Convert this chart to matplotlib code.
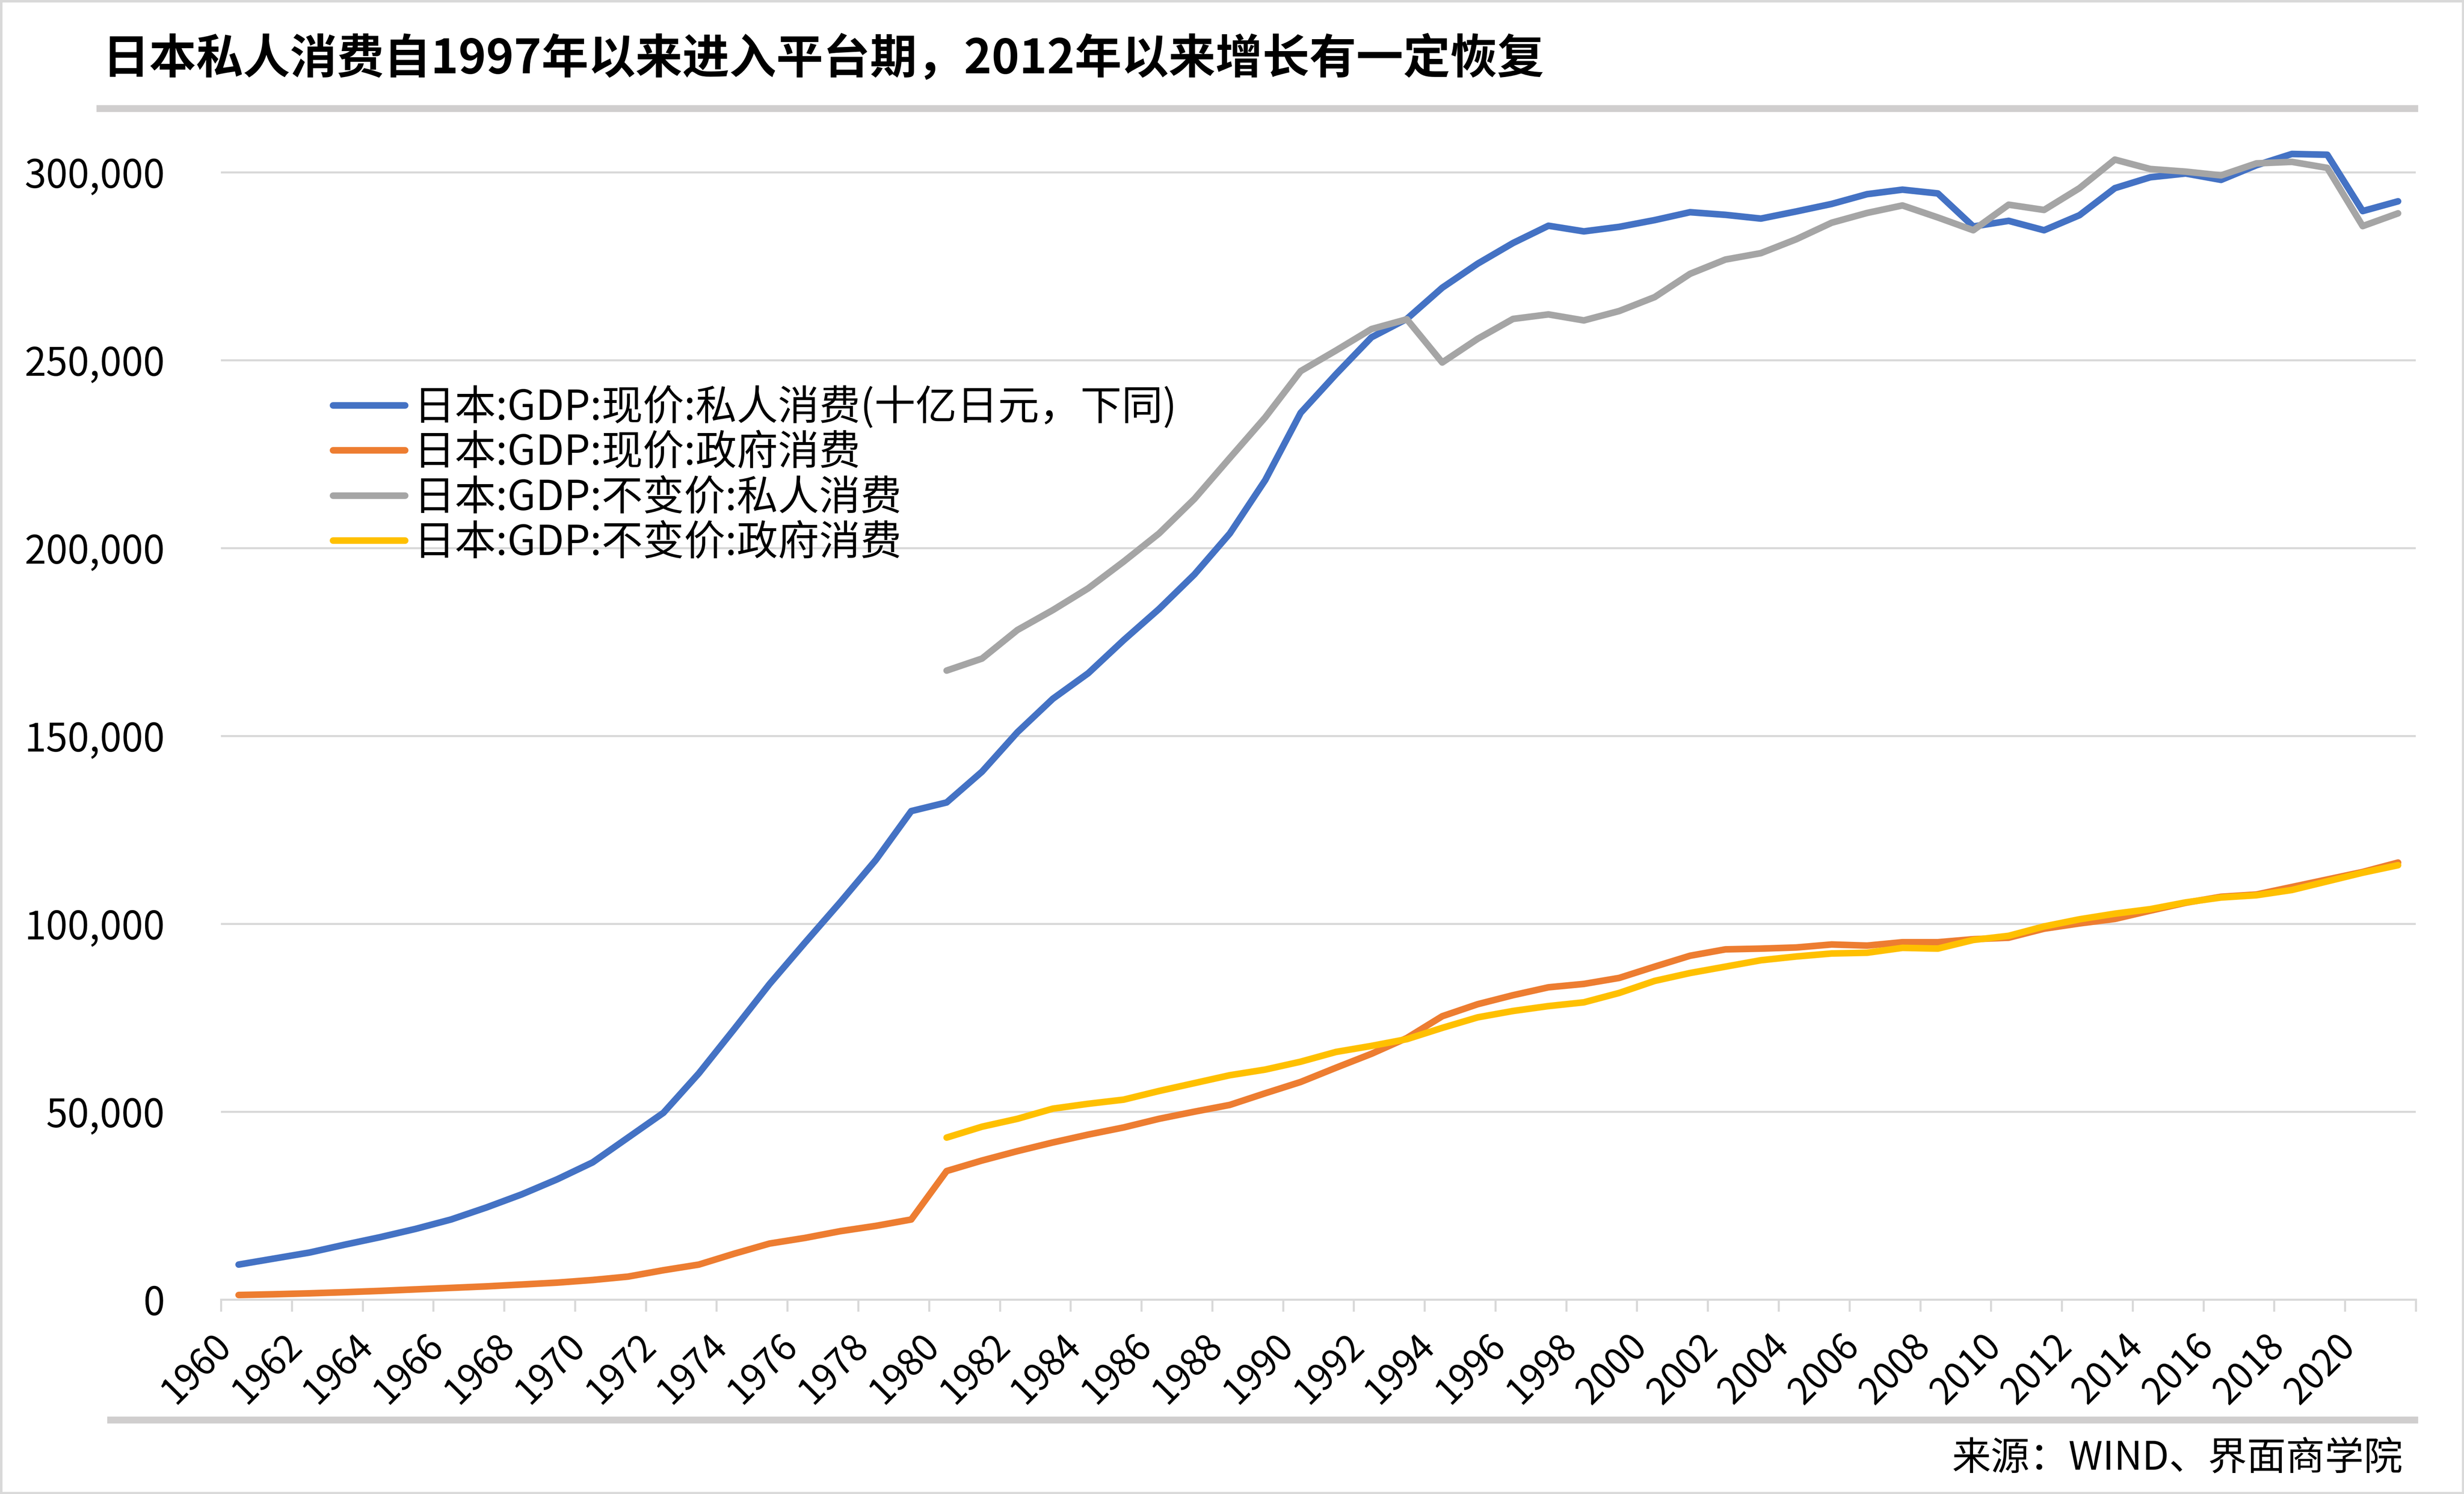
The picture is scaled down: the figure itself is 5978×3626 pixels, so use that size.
import numpy as np
import matplotlib

matplotlib.use("Agg")
import matplotlib.pyplot as plt
from matplotlib.patches import Rectangle
from matplotlib.ticker import FuncFormatter, FixedLocator

plt.rcParams["font.family"] = ["Noto Sans CJK SC", "DejaVu Sans"]

nan = np.nan

years = list(range(1960, 2022))

# 十亿日元
nominal_private = [
    9300, 10900, 12500, 14600, 16600, 18800, 21300, 24500, 28000, 32000,
    36500, 43100, 49700, 60200, 72000, 84000, 95000, 105800, 117000, 130000,
    132300, 140500, 151000, 159900, 166700, 175500, 183800, 193000, 203900, 218100,
    236000, 246300, 256100, 261000, 269300, 275700, 281200, 285800, 284300, 285500,
    287300, 289400, 288700, 287700, 289600, 291600, 294200, 295400, 294400, 285600,
    287100, 284600, 288600, 295800, 298700, 299700, 298000, 301900, 304900, 304700,
    289700, 292300,
]
nominal_gov = [
    1200, 1400, 1650, 1950, 2300, 2700, 3100, 3500, 4000, 4500,
    5200, 6100, 7800, 9300, 12200, 14900, 16400, 18200, 19600, 21300,
    34200, 37000, 39500, 41800, 43900, 45800, 48100, 50000, 51800, 54900,
    57900, 61700, 65400, 69600, 75400, 78600, 81000, 83100, 84000, 85600,
    88600, 91500, 93200, 93400, 93700, 94500, 94200, 95100, 95100, 95900,
    96300, 98700, 100100, 101300, 103500, 105600, 107200, 107800, 109800, 111800,
    113800, 116300,
]
real_private = [nan] * 20 + [
    167400, 170600, 178200, 183500, 189300, 196400, 203900, 213100, 224000, 234800,
    247100, 252600, 258300, 260900, 249400, 255700, 261000, 262200, 260600, 263100,
    266800, 273000, 276800, 278500, 282200, 286600, 289200, 291200, 288000, 284600,
    291400, 290000, 295800, 303400, 300900, 300200, 299200, 302400, 302800, 301200,
    285700, 289100,
]
real_gov = [nan] * 20 + [
    43100, 46000, 48100, 50800, 52100, 53200, 55500, 57600, 59700, 61200,
    63300, 65900, 67500, 69300, 72300, 75100, 76800, 78100, 79100, 81600,
    84800, 86900, 88600, 90300, 91300, 92100, 92300, 93600, 93400, 95700,
    96800, 99300, 101200, 102700, 103900, 105700, 107000, 107600, 109000, 111300,
    113600, 115600,
]

series = [
    ("日本:GDP:现价:私人消费(十亿日元，下同)", nominal_private, "#4472C4"),
    ("日本:GDP:现价:政府消费", nominal_gov, "#ED7D31"),
    ("日本:GDP:不变价:私人消费", real_private, "#A5A5A5"),
    ("日本:GDP:不变价:政府消费", real_gov, "#FFC000"),
]

title = "日本私人消费自1997年以来进入平台期，2012年以来增长有一定恢复"
source = "来源：WIND、界面商学院"

W, H = 5978, 3626
fig = plt.figure(figsize=(W / 100, H / 100), dpi=100)
ax = fig.add_axes([536 / W, 472 / H, 5325 / W, 2918 / H])

for label, values, color in series:
    ax.plot(years, values, color=color, linewidth=11.5, label=label,
            solid_capstyle="round", solid_joinstyle="round")

ax.set_xlim(years[0] - 0.5, years[-1] + 0.5)
ax.set_ylim(0, 320000)
ax.yaxis.set_major_locator(FixedLocator(range(0, 300001, 50000)))
ax.yaxis.set_major_formatter(FuncFormatter(lambda v, _p: f"{int(v):,}"))
ax.grid(axis="y", color="#d9d9d9", linewidth=3.6)
ax.set_axisbelow(True)

# 刻度线在类别之间，每两年一个；标签在类别中心
ax.xaxis.set_major_locator(FixedLocator([y - 0.5 for y in range(1960, 2023, 2)]))
ax.xaxis.set_major_formatter(FuncFormatter(lambda v, _p: ""))
ax.xaxis.set_minor_locator(FixedLocator(list(range(1960, 2021, 2))))
ax.xaxis.set_minor_formatter(FuncFormatter(lambda v, _p: f"{int(round(v))}"))
ax.tick_params(axis="x", which="major", length=21, width=3.6, color="#d9d9d9")
ax.tick_params(axis="x", which="minor", length=0, pad=48, labelsize=64)
for lbl in ax.get_xticklabels(minor=True):
    lbl.set_rotation(45)
    lbl.set_ha("right")
    lbl.set_va("top")
ax.tick_params(axis="y", length=0, pad=98, labelsize=68)

for side in ("top", "right", "left"):
    ax.spines[side].set_visible(False)
ax.spines["bottom"].set_color("#d9d9d9")
ax.spines["bottom"].set_linewidth(3.6)

fig.legend(loc="upper left", bbox_to_anchor=(808 / W, 1 - 938 / H),
           frameon=False, fontsize=72, handlelength=1.75, handletextpad=0.2,
           labelspacing=0.06, borderpad=0, borderaxespad=0)

fig.text(248 / W, 1 - 145 / H, title, fontsize=82, fontweight="bold",
         ha="left", va="center")
fig.add_artist(plt.Line2D([242 / W, 5858 / W], [1 - 263 / H, 1 - 263 / H],
                          color="#d0cece", linewidth=12, transform=fig.transFigure))
fig.add_artist(plt.Line2D([268 / W, 5858 / W], [1 - 3446 / H, 1 - 3446 / H],
                          color="#d0cece", linewidth=12, transform=fig.transFigure))
fig.text(5830 / W, 1 - 3539 / H, source, fontsize=68, ha="right", va="center")
fig.add_artist(Rectangle((0, 0), 1, 1, transform=fig.transFigure, fill=False,
                         edgecolor="#d9d9d9", linewidth=8))

fig.savefig("out.png", dpi=100)
